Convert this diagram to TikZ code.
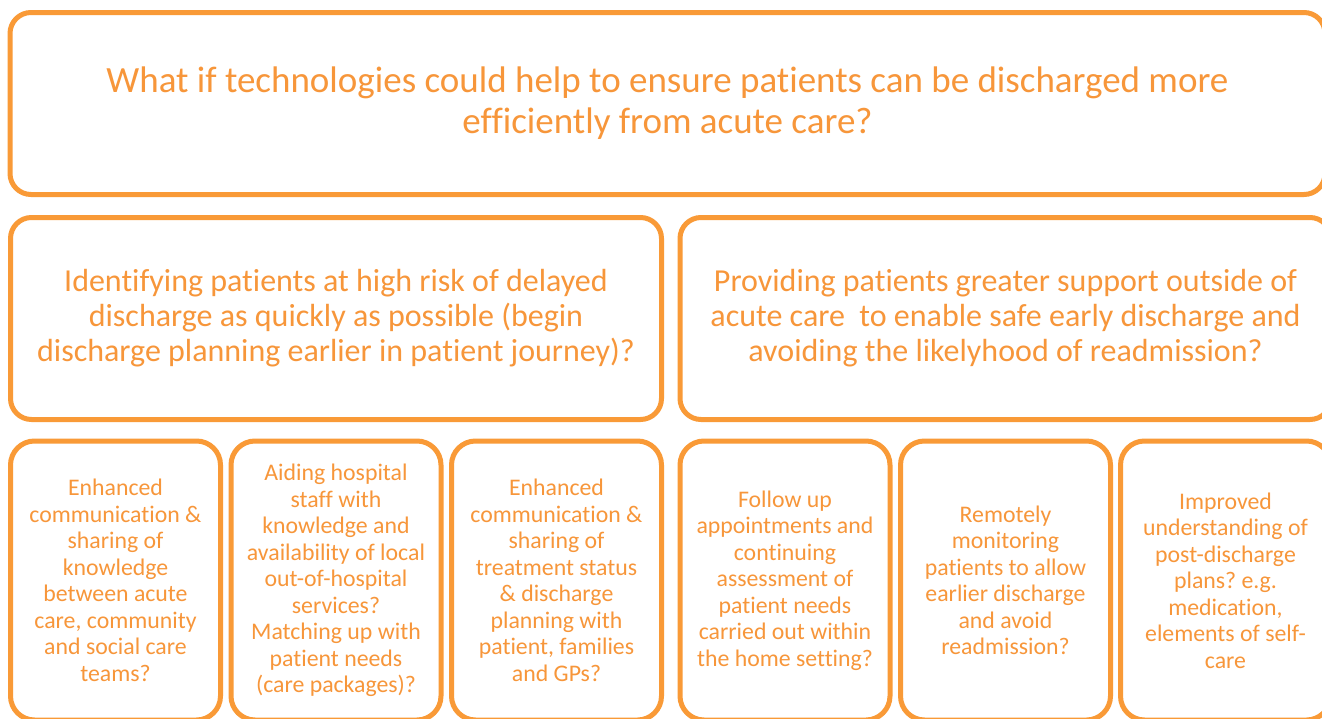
\documentclass[tikz,border=0pt]{standalone}
\usepackage{fontspec}
\setmainfont{Carlito}[Ligatures={NoCommon}]
\frenchspacing
\definecolor{accent}{HTML}{F99A37}
\definecolor{ink}{HTML}{F7963A}
\tikzset{
  panel/.style={draw=accent, line width=5pt, fill=white, rounded corners=21pt,
    inner sep=0pt, outer sep=0pt, align=center, text=ink},
  headbox/.style={panel, minimum width=1315pt, minimum height=182pt,
    font=\fontsize{37}{41}\selectfont},
  midbox/.style={panel, minimum width=651pt, minimum height=202pt,
    font=\fontsize{32}{35}\selectfont},
  cardbox/.style={panel, rounded corners=24pt, minimum width=210pt, minimum height=279pt,
    font=\fontsize{23.8}{26.5}\selectfont},
}
\begin{document}
\begin{tikzpicture}[x=1pt, y=-1pt]
\clip (0,0) rectangle (1322,718);
\fill[white] (0,0) rectangle (1322,718);

% question
\node[headbox] (head) at (667.5,103.5)
  {What if technologies could help to ensure patients can be discharged more\\
   efficiently from acute care?};

% two themes
\node[midbox] (early) at (336,318.5)
  {Identifying patients at high risk of delayed\\
   discharge as quickly as possible (begin\\
   discharge planning earlier in patient journey)?};
\node[midbox] (support) at (1005.5,318.5)
  {Providing patients greater support outside of\\
   acute care\ \ to enable safe early discharge and\\
   avoiding the likelyhood of readmission?};

% six ideas
\node[cardbox] (c1) at (115.5,580.5)
  {Enhanced\\ communication \&\\ sharing of\\ knowledge\\ between acute\\
   care, community\\ and social care\\ teams?};
\node[cardbox] (c2) at (336,580.5)
  {Aiding hospital\\ staff with\\ knowledge and\\ availability of local\\
   out-of-hospital\\ services?\\ Matching up with\\ patient needs\\ (care packages)?};
\node[cardbox] (c3) at (556.5,580.5)
  {Enhanced\\ communication \&\\ sharing of\\ treatment status\\ \& discharge\\
   planning with\\ patient, families\\ and GPs?};
\node[cardbox] (c4) at (785,580.5)
  {Follow up\\ appointments and\\ continuing\\ assessment of\\ patient needs\\
   carried out within\\ the home setting?};
\node[cardbox] (c5) at (1005.5,580.5)
  {Remotely\\ monitoring\\ patients to allow\\ earlier discharge\\ and avoid\\
   readmission?};
\node[cardbox] (c6) at (1225.5,580.5)
  {Improved\\ understanding of\\ post-discharge\\ plans? e.g.\\ medication,\\
   elements of self-\\ care};
\end{tikzpicture}
\end{document}
